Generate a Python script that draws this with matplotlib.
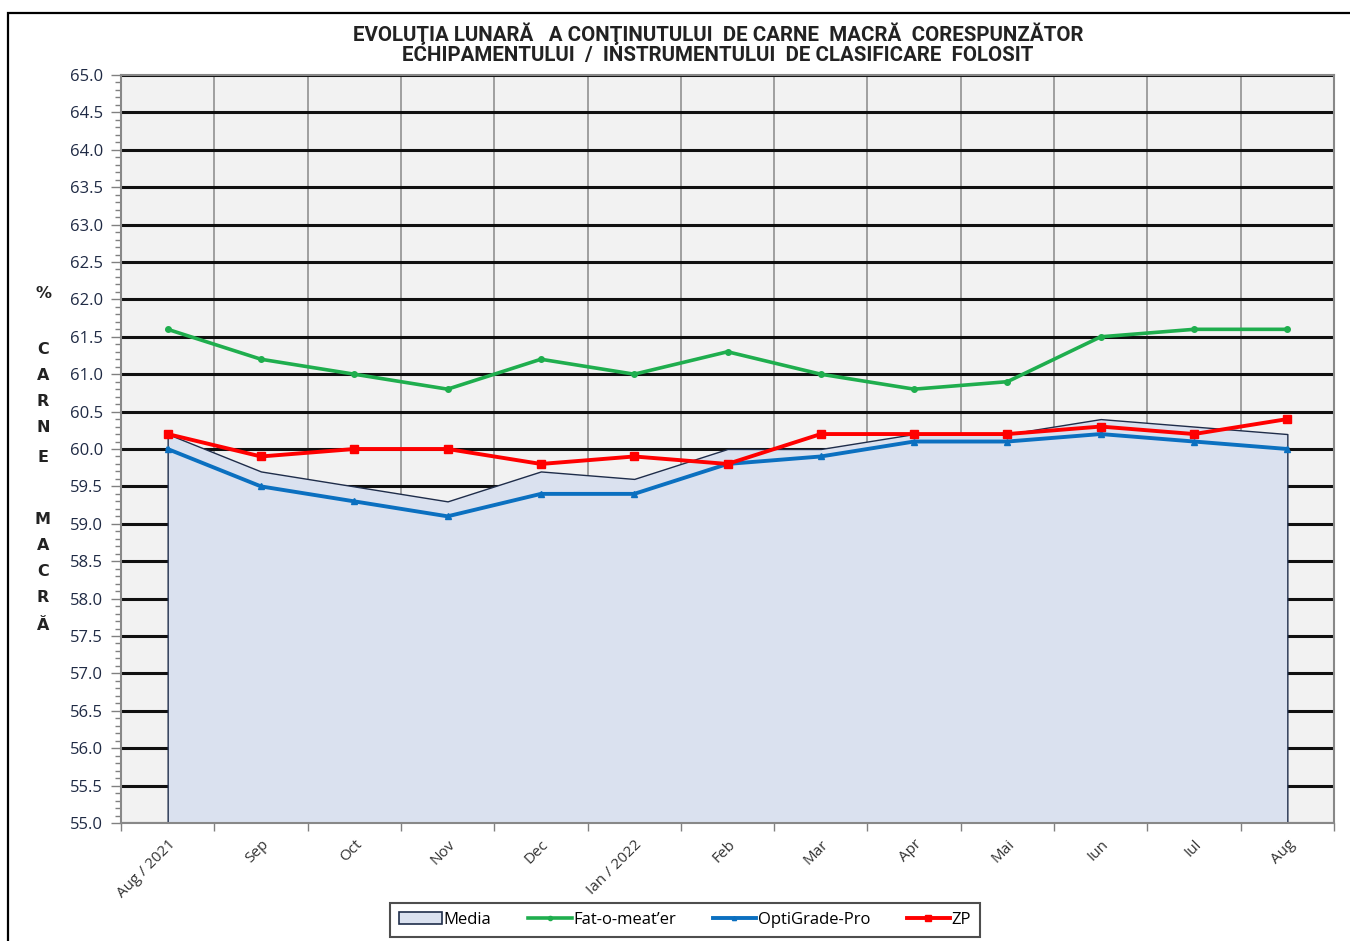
import matplotlib
matplotlib.use("Agg")
import matplotlib.pyplot as plt
from matplotlib.patches import Rectangle, Patch
from matplotlib.lines import Line2D
import numpy as np

months = ["Aug / 2021", "Sep", "Oct", "Nov", "Dec", "Ian / 2022", "Feb",
          "Mar", "Apr", "Mai", "Iun", "Iul", "Aug"]
media = [60.2, 59.7, 59.5, 59.3, 59.7, 59.6, 60.0, 60.0, 60.2, 60.2, 60.4, 60.3, 60.2]
fat_o_meater = [61.6, 61.2, 61.0, 60.8, 61.2, 61.0, 61.3, 61.0, 60.8, 60.9, 61.5, 61.6, 61.6]
optigrade = [60.0, 59.5, 59.3, 59.1, 59.4, 59.4, 59.8, 59.9, 60.1, 60.1, 60.2, 60.1, 60.0]
zp = [60.2, 59.9, 60.0, 60.0, 59.8, 59.9, 59.8, 60.2, 60.2, 60.2, 60.3, 60.2, 60.4]

fill_color = "#dae1ef"
edge_color = "#1f2d4a"
green = "#1fae4e"
blue = "#0b70c0"
red = "#ff0000"
label_color = "#1f2a44"

fig = plt.figure(figsize=(13.5, 9.41), dpi=100)
ax = fig.add_axes([121 / 1350, 1 - 823 / 941, (1334 - 121) / 1350, (823 - 75) / 941])

# outer chart border
fig.patches.append(Rectangle((8 / 1350, -0.05), 1.1, 1 - 13 / 941 + 0.05,
                             transform=fig.transFigure, fill=False,
                             edgecolor="black", linewidth=1.6))

x = np.arange(len(months))
ax.set_facecolor("#f2f2f2")
ax.fill_between(x, 55, media, facecolor=fill_color, edgecolor=edge_color,
                linewidth=1.0, zorder=2)
ax.plot(x, fat_o_meater, color=green, lw=2.6, marker="o", ms=4, zorder=4)
ax.plot(x, optigrade, color=blue, lw=2.8, marker="^", ms=4, zorder=4)
ax.plot(x, zp, color=red, lw=2.8, marker="s", ms=6, zorder=5)

ax.set_xlim(-0.5, len(months) - 0.5)
ax.set_ylim(55, 65)

# y axis
ax.set_yticks(np.arange(55, 65.01, 0.5))
ax.set_yticks(np.arange(55, 65.01, 0.1), minor=True)
ax.set_yticklabels([f"{v:.1f}" for v in np.arange(55, 65.01, 0.5)],
                   fontsize=12, color=label_color, family="Open Sans")
ax.tick_params(axis="y", which="major", length=7, color="#808080", width=1, pad=6)
ax.tick_params(axis="y", which="minor", length=4, color="#808080", width=1)
ax.yaxis.grid(True, which="major", color="#101010", lw=2.2, zorder=1)

# x axis: ticks/gridlines at category boundaries, labels at centers
ax.set_xticks(np.arange(-0.5, len(months), 1.0))
ax.set_xticklabels([])
ax.set_xticks(x, minor=True)
ax.set_xticklabels(months, minor=True, rotation=45, ha="right", va="top",
                   rotation_mode="anchor", fontsize=11, color="#333333",
                   family="Open Sans")
ax.tick_params(axis="x", which="major", length=6, color="#808080", width=1)
ax.tick_params(axis="x", which="minor", length=0, pad=10)
ax.xaxis.grid(True, which="major", color="#999999", lw=1.3, zorder=1)
ax.set_axisbelow(True)

for side in ["left", "bottom", "right", "top"]:
    ax.spines[side].set_color("#888888")
    ax.spines[side].set_linewidth(1.5)

fig.text(718 / 1350, 1 - 44 / 941,
         "EVOLUŢIA LUNARĂ   A CONŢINUTULUI  DE CARNE  MACRĂ  CORESPUNZĂTOR\n"
         "ECHIPAMENTULUI  /  INSTRUMENTULUI  DE CLASIFICARE  FOLOSIT",
         ha="center", va="center", fontsize=14.8, fontweight="bold",
         color="#222222", family="Roboto", linespacing=1.05)

# vertical y label letters
letters = [("%", 294), ("C", 350), ("A", 375), ("R", 401), ("N", 428), ("E", 457),
           ("M", 520), ("A", 545), ("C", 571), ("R", 597), ("Ă", 626)]
for ch, yy in letters:
    fig.text(43 / 1350, 1 - yy / 941, ch, ha="center", va="center",
             fontsize=11.5, fontweight="bold", color="#222222")

handles = [
    Patch(facecolor=fill_color, edgecolor=edge_color, linewidth=1.2, label="Media"),
    Line2D([], [], color=green, lw=2.6, marker="o", ms=3, label="Fat-o-meat\u2019er"),
    Line2D([], [], color=blue, lw=2.8, marker="^", ms=3, label="OptiGrade-Pro"),
    Line2D([], [], color=red, lw=2.8, marker="s", ms=4, label="ZP"),
]
leg = fig.legend(handles=handles, loc="center", bbox_to_anchor=(685 / 1350, 1 - 920 / 941),
                 ncol=4, frameon=True, fancybox=False, edgecolor="#222222",
                 handlelength=2.6, handletextpad=0.1,
                 columnspacing=2.2, borderpad=0.55, borderaxespad=0,
                 prop={"family": "Open Sans", "size": 12})
leg.get_frame().set_linewidth(1.5)

fig.savefig("out.png", dpi=100)
